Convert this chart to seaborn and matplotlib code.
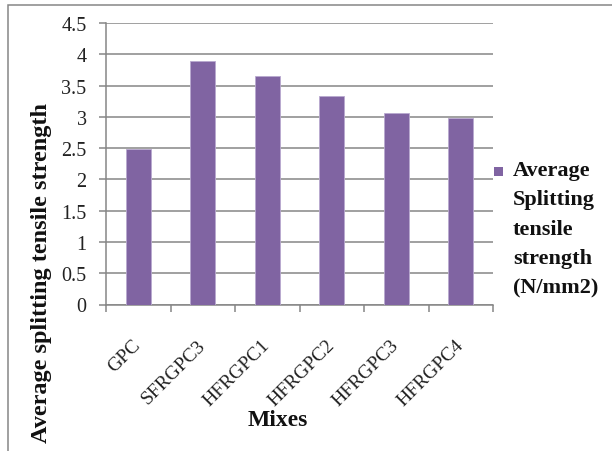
import matplotlib
matplotlib.use("Agg")
import matplotlib.pyplot as plt
from matplotlib.patches import Rectangle
from matplotlib.ticker import MultipleLocator, FixedLocator
import seaborn as sns
import pandas as pd

# Mix designations and their average splitting tensile strength (N/mm2)
mixes = ["GPC", "SFRGPC3", "HFRGPC1", "HFRGPC2", "HFRGPC3", "HFRGPC4"]
strength = [2.49, 3.89, 3.66, 3.34, 3.06, 2.98]
series_name = "Average\nSplitting\ntensile\nstrength\n(N/mm2)"

df = pd.DataFrame({"Mixes": mixes, "Strength": strength})

sns.set_theme(style="white")
plt.rcParams["font.family"] = ["Liberation Serif", "DejaVu Serif"]

W, H = 612, 452
fig = plt.figure(figsize=(W / 100, H / 100), dpi=100)
fig.patch.set_facecolor("white")

# plot area placed in pixel terms
left, right, top, bottom = 106, 493, 24, 305.5
ax = fig.add_axes([left / W, 1 - bottom / H, (right - left) / W, (bottom - top) / H])

bar_color = "#8064A2"
grid_color = "#868686"

sns.barplot(data=df, x="Mixes", y="Strength", color=bar_color, width=0.39,
            saturation=1, edgecolor="#B9A9CF", linewidth=0.6, ax=ax, zorder=3)

ax.set_xlim(-0.5, len(mixes) - 0.5)
ax.set_ylim(0, 4.5)
ax.yaxis.set_major_locator(MultipleLocator(0.5))
ax.yaxis.grid(True, color=grid_color, linewidth=1.1, zorder=0)
ax.xaxis.grid(False)
ax.set_axisbelow(True)

for s in ["top", "right"]:
    ax.spines[s].set_visible(False)
for s in ["left", "bottom"]:
    ax.spines[s].set_color(grid_color)
    ax.spines[s].set_linewidth(1.1)

# y tick labels
ylabels = ["0", "0.5", "1", "1.5", "2", "2.5", "3", "3.5", "4", "4.5"]
ax.set_yticks([i * 0.5 for i in range(10)])
ax.set_yticklabels(ylabels, fontsize=14.5, color="#222222")
ax.tick_params(axis="y", which="major", left=True, length=5, width=1.1,
               color=grid_color, pad=9)

# x: labels at category centres, tick marks at category boundaries
ax.set_xticks(range(len(mixes)))
ax.set_xticklabels(mixes, rotation=45, ha="right", va="center",
                   rotation_mode="anchor", fontsize=14, color="#222222")
ax.tick_params(axis="x", which="major", bottom=False, length=0, pad=27)
ax.xaxis.set_minor_locator(FixedLocator([i - 0.5 for i in range(len(mixes) + 1)]))
ax.tick_params(axis="x", which="minor", bottom=True, length=5, width=1.1,
               color=grid_color)

ax.set_xlabel("")
ax.set_ylabel("")

# axis titles
fig.text(42 / W, 1 - 273 / H, "Average splitting tensile strength",
         rotation=90, ha="center", va="center", fontsize=17.5,
         fontweight="bold", color="#111111")
fig.text(278 / W, 1 - 421 / H, "Mixes", ha="center", va="center",
         fontsize=17, fontweight="bold", color="#111111")

# legend
fig.patches.append(Rectangle((494 / W, 1 - 177 / H), 9 / W, 9 / H,
                             transform=fig.transFigure, facecolor=bar_color,
                             edgecolor="none"))
fig.text(513 / W, 1 - 161 / H, series_name, ha="left", va="top",
         fontsize=16, fontweight="bold", color="#111111", linespacing=1.62)

# chart border
fig.patches.append(Rectangle((8 / W, -0.1), 1.2, 1 - 6 / H + 0.1,
                             transform=fig.transFigure, facecolor="none",
                             edgecolor=grid_color, linewidth=1.1))

fig.savefig("out.png", dpi=100)
